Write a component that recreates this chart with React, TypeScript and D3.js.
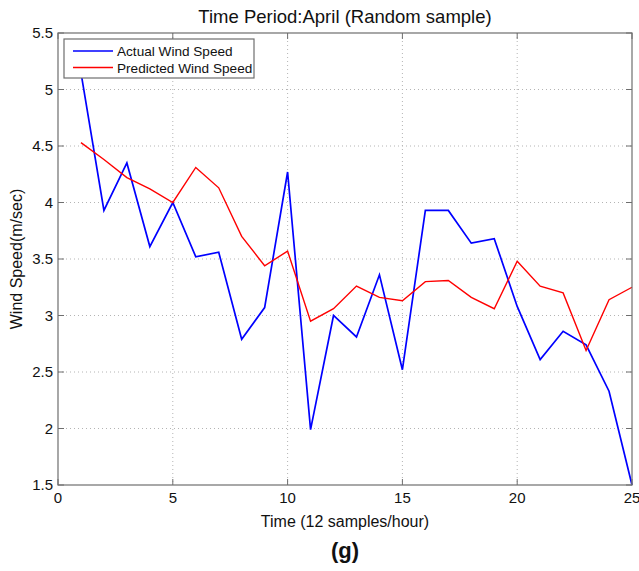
import React from "react";
import * as d3 from "d3";

const timeSteps = [1,2,3,4,5,6,7,8,9,10,11,12,13,14,15,16,17,18,19,20,21,22,23,24,25];
const actualSpeed = [5.15,3.93,4.35,3.61,4.0,3.52,3.56,2.79,3.07,4.27,1.99,3.0,2.81,3.36,2.52,3.93,3.93,3.64,3.68,3.08,2.61,2.86,2.74,2.33,1.5];
const predictedSpeed = [4.53,4.38,4.22,4.12,4.0,4.31,4.13,3.70,3.44,3.57,2.95,3.06,3.26,3.16,3.13,3.30,3.31,3.16,3.06,3.48,3.26,3.20,2.69,3.14,3.25];
const xTicks = [0,5,10,15,20,25];
const yTicks = [1.5,2,2.5,3,3.5,4,4.5,5,5.5];
const seriesNames = ["Actual Wind Speed", "Predicted Wind Speed"];
const seriesColors = ["#0000ff", "#ff0000"];

const W = 639, H = 571;
const L = 58, R = 632, T = 33, B = 485;
const FONT = "'Liberation Sans', Arial, Helvetica, sans-serif";

export default function App() {
  const x = d3.scaleLinear().domain([0, 25]).range([L, R]);
  const y = d3.scaleLinear().domain([1.5, 5.5]).range([B, T]);
  const line = d3.line<number>().x((_, i) => x(timeSteps[i])).y((d) => y(d));
  const tickLen = 6;
  const axisColor = "#6e6e6e";
  const gridColor = "#b4b4b4";
  return (
    <svg width={W} height={H} style={{ position: "absolute", left: 0, top: 0, background: "#fff" }} fontFamily={FONT}>
      <rect x={0} y={0} width={W} height={H} fill="#fff" />
      {xTicks.slice(1, -1).map((t) => (
        <line key={"gx" + t} x1={x(t)} x2={x(t)} y1={T} y2={B} stroke={gridColor} strokeWidth={1} strokeDasharray="1,3" />
      ))}
      {yTicks.slice(1, -1).map((t) => (
        <line key={"gy" + t} x1={L} x2={R} y1={y(t)} y2={y(t)} stroke={gridColor} strokeWidth={1} strokeDasharray="1,3" />
      ))}
      <path d={line(actualSpeed) || ""} fill="none" stroke={seriesColors[0]} strokeWidth={1.7} />
      <path d={line(predictedSpeed) || ""} fill="none" stroke={seriesColors[1]} strokeWidth={1.4} />
      <rect x={L} y={T} width={R - L} height={B - T} fill="none" stroke={axisColor} strokeWidth={1.2} />
      {xTicks.map((t) => (
        <g key={"tx" + t}>
          <line x1={x(t)} x2={x(t)} y1={B} y2={B - tickLen} stroke={axisColor} />
          <line x1={x(t)} x2={x(t)} y1={T} y2={T + tickLen} stroke={axisColor} />
          <text x={x(t)} y={B + 18} textAnchor="middle" fontSize={15} fill="#111">{t}</text>
        </g>
      ))}
      {yTicks.map((t) => (
        <g key={"ty" + t}>
          <line x1={L} x2={L + tickLen} y1={y(t)} y2={y(t)} stroke={axisColor} />
          <line x1={R} x2={R - tickLen} y1={y(t)} y2={y(t)} stroke={axisColor} />
          <text x={L - 5} y={y(t) + 5} textAnchor="end" fontSize={15} fill="#111">{t}</text>
        </g>
      ))}
      <rect x={64} y={39} width={190} height={39} fill="#fff" stroke={axisColor} strokeWidth={1.2} />
      {seriesNames.map((n, i) => (
        <g key={n}>
          <line x1={73} x2={113} y1={51 + i * 16.5} y2={51 + i * 16.5} stroke={seriesColors[i]} strokeWidth={1.5} />
          <text x={117} y={51 + i * 16.5 + 5} fontSize={13.6} fill="#111">{n}</text>
        </g>
      ))}
      <text x={(L + R) / 2} y={23} textAnchor="middle" fontSize={18.5} fill="#111">Time Period:April (Random sample)</text>
      <text x={(L + R) / 2} y={527} textAnchor="middle" fontSize={16} fill="#111">Time (12 samples/hour)</text>
      <text transform={`translate(22,${(T + B) / 2}) rotate(-90)`} textAnchor="middle" fontSize={16} fill="#111">Wind Speed(m/sec)</text>
      <text x={(L + R) / 2} y={558} textAnchor="middle" fontSize={22} fontWeight="bold" fill="#111">(g)</text>
    </svg>
  );
}
